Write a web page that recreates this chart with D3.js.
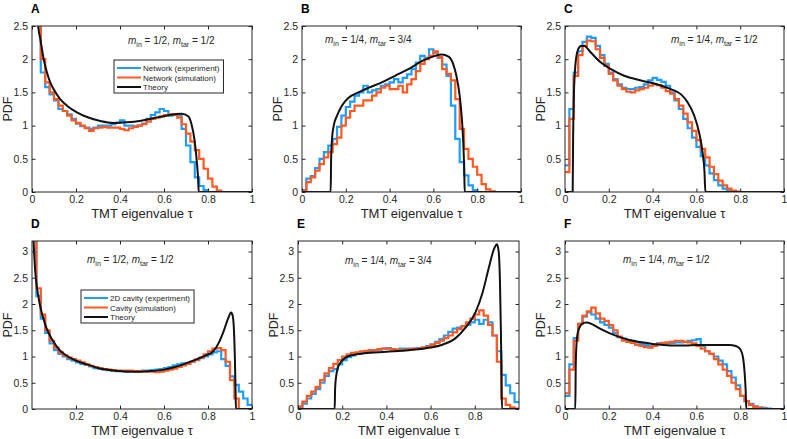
<!DOCTYPE html>
<html>
<head>
<meta charset="utf-8">
<script src="https://cdn.jsdelivr.net/npm/d3@7/dist/d3.min.js"></script>
<style>
body { margin:0; background:#fff; }
svg { display:block; font-family: Arial, "Liberation Sans", Helvetica, sans-serif; }
</style>
</head>
<body>
<svg id="fig" width="787" height="439"></svg>
<script>
// histogram bins are 0.02 wide, starting at tau = 0 (50 bins per series)
var binWidth = 0.02;

var xTicksAll = [0, 0.2, 0.4, 0.6, 0.8, 1];
var xTicksD = [0.2, 0.4, 0.6, 0.8, 1];
var xTicksE = [0, 0.2, 0.4, 0.6, 0.8];
var yTicksTop = [0, 0.5, 1, 1.5, 2, 2.5];
var yTicksBottom = [0, 0.5, 1, 1.5, 2, 2.5, 3];

var legendNetwork = ["Network (experiment)", "Network (simulation)", "Theory"];
var legendCavity = ["2D cavity (experiment)", "Cavity (simulation)", "Theory"];

// A : m_in = 1/2, m_tar = 1/2 (network)
var aExp = [null,2.6,1.8,1.58,1.47,1.38,1.25,1.22,1.17,1.1, 1.03,0.99,0.97,0.95,0.97,1.0,1.0,1.0,1.02,1.04,
  1.08,1.0,1.0,0.99,1.0,1.03,1.1,1.16,1.2,1.25, 1.22,1.15,1.17,1.15,0.95,0.7,0.45,0.22,0.09,0.03,
  0,0,0,0,0,0,0,0,0,0];
var aSim = [null,2.6,2.0,1.65,1.5,1.4,1.3,1.22,1.15,1.08, 1.04,1.0,0.96,0.92,0.96,0.97,0.98,0.97,0.97,0.97,
  0.95,0.93,0.96,0.98,1.0,1.02,1.06,1.1,1.12,1.14, 1.16,1.17,1.16,1.12,1.02,0.88,0.76,0.63,0.5,0.35,
  0.2,0.08,0.02,0,0,0,0,0,0,0];
var aTheory = [[0.026,2.6],[0.03,2.45],[0.038,2.3],[0.053,2.0],[0.068,1.8],[0.083,1.65],[0.098,1.55],[0.128,1.4],
  [0.159,1.3],[0.204,1.2],[0.25,1.13],[0.31,1.07],[0.37,1.04],[0.43,1.05],[0.49,1.07],[0.55,1.11],[0.61,1.15],
  [0.65,1.17],[0.68,1.18],[0.71,1.14],[0.725,1.02],[0.738,0.8],[0.748,0.5],[0.755,0.2],[0.758,0],[1,0]];

// B : m_in = 1/4, m_tar = 3/4 (network)
var bExp = [0.03,0.2,0.24,0.36,0.5,0.6,0.7,0.8,0.98,1.15, 1.28,1.36,1.45,1.5,1.6,1.5,1.53,1.55,1.6,1.62,
  1.65,1.7,1.65,1.72,1.77,1.85,1.95,2.05,2.02,2.15, 2.1,2.02,1.92,1.75,1.3,0.8,0.45,0.25,0.1,0.03,
  0,0,0,0,0,0,0,0,0,0];
var bSim = [0.02,0.15,0.22,0.32,0.42,0.52,0.6,0.72,0.82,1.0, 1.12,1.22,1.3,1.3,1.38,1.38,1.45,1.5,1.57,1.6,
  1.55,1.55,1.6,1.5,1.62,1.7,1.82,1.93,2.0,2.05, 2.12,2.03,1.85,1.78,1.68,1.4,0.95,0.65,0.5,0.38,
  0.26,0.12,0.04,0.01,0,0,0,0,0,0];
var bTheory = [[0,0],[0.131,0],[0.133,0.5],[0.137,0.8],[0.145,1.0],[0.16,1.15],[0.182,1.3],[0.213,1.42],[0.258,1.5],
  [0.304,1.57],[0.365,1.65],[0.425,1.75],[0.486,1.85],[0.547,1.97],[0.608,2.05],[0.638,2.07],[0.669,2.04],
  [0.69,1.93],[0.705,1.75],[0.72,1.45],[0.73,1.1],[0.737,0.7],[0.741,0.3],[0.743,0],[1,0]];

// C : m_in = 1/4, m_tar = 1/2 (network)
var cExp = [0.4,1.25,1.8,2.12,2.26,2.34,2.32,2.2,2.06,1.93, 1.8,1.7,1.62,1.57,1.55,1.55,1.57,1.58,1.62,1.68,
  1.72,1.69,1.66,1.6,1.5,1.38,1.25,1.1,0.96,0.82, 0.68,0.54,0.4,0.28,0.18,0.1,0.05,0.02,0.005,0,
  0,0,0,0,0,0,0,0,0,0];
var cSim = [0.3,1.1,1.75,2.06,2.2,2.28,2.27,2.15,2.02,1.9, 1.78,1.68,1.6,1.55,1.51,1.5,1.53,1.55,1.57,1.6,
  1.62,1.61,1.57,1.52,1.48,1.4,1.3,1.18,1.05,0.92, 0.78,0.65,0.52,0.38,0.27,0.17,0.1,0.05,0.02,0.005,
  0,0,0,0,0,0,0,0,0,0];
var cTheory = [[0,0],[0.035,0],[0.037,0.8],[0.04,1.4],[0.045,1.8],[0.05,2.0],[0.06,2.15],[0.073,2.2],[0.088,2.2],
  [0.118,2.1],[0.164,1.95],[0.21,1.85],[0.27,1.75],[0.347,1.68],[0.422,1.62],[0.483,1.55],[0.53,1.47],
  [0.56,1.35],[0.59,1.15],[0.612,0.9],[0.628,0.6],[0.637,0.3],[0.641,0],[1,0]];

// D : m_in = 1/2, m_tar = 1/2 (cavity)
var dExp = [3.3,2.15,1.72,1.45,1.25,1.12,1.05,1.0,0.95,0.92, 0.89,0.86,0.84,0.81,0.78,0.77,0.75,0.74,0.73,0.72,
  0.72,0.71,0.72,0.72,0.72,0.73,0.73,0.74,0.75,0.76, 0.78,0.8,0.83,0.85,0.87,0.88,0.9,0.93,0.97,1.0,
  1.04,1.08,1.1,0.95,0.82,0.62,0.46,0.33,0.2,0.08];
var dSim = [3.3,2.3,1.8,1.5,1.3,1.17,1.08,1.02,0.98,0.95, 0.92,0.89,0.85,0.82,0.8,0.78,0.76,0.75,0.74,0.73,
  0.73,0.73,0.73,0.72,0.72,0.72,0.71,0.71,0.7,0.71, 0.73,0.75,0.77,0.8,0.83,0.86,0.9,0.94,0.98,1.04,
  1.1,1.15,1.16,1.12,0.9,0.55,0.2,0,0,0];
var dTheory = [[0.006,3.3],[0.01,2.95],[0.015,2.6],[0.02,2.4],[0.035,2.0],[0.05,1.75],[0.065,1.55],[0.095,1.3],
  [0.126,1.12],[0.156,1.02],[0.2,0.92],[0.25,0.85],[0.3,0.78],[0.38,0.73],[0.46,0.71],[0.53,0.72],[0.6,0.75],
  [0.65,0.8],[0.7,0.87],[0.75,0.95],[0.79,1.02],[0.824,1.1],[0.85,1.27],[0.87,1.47],[0.892,1.73],[0.905,1.84],
  [0.912,1.78],[0.918,1.5],[0.922,1.0],[0.925,0.4],[0.927,0],[1,0]];

// E : m_in = 1/4, m_tar = 3/4 (cavity)
var eExp = [0.03,0.1,0.2,0.29,0.38,0.5,0.63,0.72,0.76,0.85, 0.93,0.99,1.02,1.05,1.07,1.09,1.1,1.12,1.13,1.15,
  1.16,1.14,1.13,1.15,1.15,1.15,1.15,1.16,1.17,1.2, 1.23,1.28,1.33,1.4,1.47,1.53,1.55,1.58,1.6,1.65,
  1.7,1.62,1.7,1.65,1.4,1.1,0.65,0.45,0.3,0.13];
var eSim = [0.05,0.14,0.25,0.33,0.42,0.55,0.68,0.78,0.86,0.93, 1.0,1.04,1.07,1.08,1.1,1.11,1.12,1.12,1.14,1.15,
  1.15,1.14,1.13,1.12,1.13,1.14,1.15,1.15,1.17,1.19, 1.22,1.26,1.3,1.35,1.4,1.46,1.52,1.58,1.65,1.72,
  1.8,1.88,1.78,1.6,1.4,0.9,0.2,0.08,0.03,0.01];
var eTheory = [[0,0],[0.166,0],[0.168,0.4],[0.172,0.6],[0.18,0.78],[0.195,0.9],[0.215,0.98],[0.25,1.03],[0.3,1.06],
  [0.4,1.09],[0.5,1.12],[0.6,1.17],[0.65,1.22],[0.713,1.35],[0.758,1.55],[0.804,1.85],[0.834,2.2],[0.864,2.7],
  [0.887,3.05],[0.9,3.14],[0.908,3.0],[0.914,2.4],[0.918,1.5],[0.921,0.6],[0.923,0],[1,0]];

// F : m_in = 1/4, m_tar = 1/2 (cavity)
var fExp = [0.25,0.85,1.35,1.62,1.76,1.84,1.8,1.72,1.65,1.6, 1.55,1.45,1.37,1.34,1.31,1.3,1.27,1.24,1.22,1.2,
  1.22,1.25,1.25,1.25,1.26,1.27,1.27,1.28,1.3,1.31, 1.33,1.2,1.1,1.05,1.0,0.92,0.85,0.72,0.6,0.45,
  0.25,0.15,0.1,0.05,0.03,0.02,0.01,0,0,0];
var fSim = [0.3,0.75,1.3,1.62,1.78,1.86,1.93,1.82,1.72,1.68, 1.6,1.5,1.38,1.3,1.28,1.26,1.22,1.2,1.18,1.17,
  1.2,1.24,1.26,1.27,1.28,1.3,1.3,1.28,1.27,1.25, 1.2,1.15,1.1,1.05,0.95,0.85,0.75,0.63,0.5,0.38,
  0.25,0.15,0.08,0.04,0.02,0.01,0,0,0,0];
var fTheory = [[0,0],[0.047,0],[0.049,0.8],[0.052,1.2],[0.058,1.45],[0.07,1.58],[0.085,1.64],[0.1,1.65],[0.12,1.62],
  [0.16,1.53],[0.2,1.45],[0.25,1.37],[0.3,1.31],[0.35,1.27],[0.4,1.24],[0.45,1.22],[0.5,1.21],[0.55,1.21],
  [0.6,1.22],[0.65,1.22],[0.7,1.22],[0.75,1.22],[0.78,1.2],[0.8,1.14],[0.812,1.0],[0.82,0.7],[0.825,0.35],
  [0.828,0],[1,0]];

var colExp = "#1e9dff", colSim = "#ff5a24", colTheory = "#111111", colAxis = "#262626";

var panels = [
  {id:"A", exp:aExp, sim:aSim, theory:aTheory, yMax:2.5, yTicks:yTicksTop, xTicks:xTicksAll,
   box:[32,26,252,192], mIn:"1/2", mTar:"1/2", noteAt:[128,44], legend:legendNetwork, legendAt:[114,60]},
  {id:"B", exp:bExp, sim:bSim, theory:bTheory, yMax:2.5, yTicks:yTicksTop, xTicks:xTicksAll,
   box:[302,26,521,192], mIn:"1/4", mTar:"3/4", noteAt:[325,43]},
  {id:"C", exp:cExp, sim:cSim, theory:cTheory, yMax:2.5, yTicks:yTicksTop, xTicks:xTicksAll,
   box:[565,26,784,192], mIn:"1/4", mTar:"1/2", noteAt:[671,43]},
  {id:"D", exp:dExp, sim:dSim, theory:dTheory, yMax:3.2, yTicks:yTicksBottom, xTicks:xTicksD,
   box:[32,241,252,409], mIn:"1/2", mTar:"1/2", noteAt:[87,263], legend:legendCavity, legendAt:[81,290]},
  {id:"E", exp:eExp, sim:eSim, theory:eTheory, yMax:3.2, yTicks:yTicksBottom, xTicks:xTicksE,
   box:[298,241,519,409], mIn:"1/4", mTar:"3/4", noteAt:[345,264]},
  {id:"F", exp:fExp, sim:fSim, theory:fTheory, yMax:3.2, yTicks:yTicksBottom, xTicks:xTicksAll,
   box:[565,241,784,409], mIn:"1/4", mTar:"1/2", noteAt:[623,263]}
];

var svg = d3.select("#fig");

function histPoints(values) {
  var pts = values.map(function (v, i) { return [i * binWidth, v]; });
  pts.push([1, values[values.length - 1]]);
  return pts;
}

function drawPanel(p) {
  var x0 = p.box[0], y0 = p.box[1], x1 = p.box[2], y1 = p.box[3];
  var x = d3.scaleLinear().domain([0, 1]).range([x0, x1]);
  var y = d3.scaleLinear().domain([0, p.yMax]).range([y1, y0]);
  var g = svg.append("g").attr("class", "panel-" + p.id);

  g.append("clipPath").attr("id", "clip" + p.id)
    .append("rect").attr("x", x0).attr("y", y0).attr("width", x1 - x0).attr("height", y1 - y0);

  var plot = g.append("g").attr("clip-path", "url(#clip" + p.id + ")");

  var step = d3.line()
    .defined(function (d) { return d[1] !== null; })
    .x(function (d) { return x(d[0]); })
    .y(function (d) { return y(d[1]); })
    .curve(d3.curveStepAfter);

  var smooth = d3.line()
    .x(function (d) { return x(d[0]); })
    .y(function (d) { return y(d[1]); })
    .curve(d3.curveMonotoneX);

  plot.append("path").attr("d", step(histPoints(p.exp)))
    .attr("fill", "none").attr("stroke", colExp).attr("stroke-width", 2.2);
  plot.append("path").attr("d", step(histPoints(p.sim)))
    .attr("fill", "none").attr("stroke", colSim).attr("stroke-width", 2.2);
  plot.append("path").attr("d", smooth(p.theory))
    .attr("fill", "none").attr("stroke", colTheory).attr("stroke-width", 2);

  // axes, matlab style ticks pointing inward on all four sides
  var xb = g.append("g").attr("transform", "translate(0," + y1 + ")")
    .call(d3.axisBottom(x).tickValues(p.xTicks).tickSize(-3.5).tickPadding(4).tickFormat(d3.format("")));
  var xt = g.append("g").attr("transform", "translate(0," + y0 + ")")
    .call(d3.axisTop(x).tickValues(p.xTicks).tickSize(-3.5).tickFormat(""));
  var yl = g.append("g").attr("transform", "translate(" + x0 + ",0)")
    .call(d3.axisLeft(y).tickValues(p.yTicks).tickSize(-3.5).tickPadding(4).tickFormat(d3.format("")));
  var yr = g.append("g").attr("transform", "translate(" + x1 + ",0)")
    .call(d3.axisRight(y).tickValues(p.yTicks).tickSize(-3.5).tickFormat(""));
  [xb, xt, yl, yr].forEach(function (a) {
    a.select(".domain").remove();
    a.selectAll("line").attr("stroke", colAxis);
    a.selectAll("text").attr("fill", colAxis).style("font-size", "10.5px");
  });

  g.append("rect").attr("x", x0).attr("y", y0).attr("width", x1 - x0).attr("height", y1 - y0)
    .attr("fill", "none").attr("stroke", colAxis).attr("stroke-width", 1);

  g.append("text").attr("x", (x0 + x1) / 2).attr("y", y1 + 26).attr("text-anchor", "middle")
    .style("font-size", "13px").attr("fill", colAxis).text("TMT eigenvalue \u03c4");

  g.append("text").attr("transform", "translate(" + (x0 - 20) + "," + ((y0 + y1) / 2) + ") rotate(-90)")
    .attr("text-anchor", "middle").style("font-size", "12.5px").attr("fill", colAxis).text("PDF");

  g.append("text").attr("x", x0 - 1).attr("y", y0 - 13).style("font-size", "12px")
    .style("font-weight", "bold").attr("fill", "#000").text(p.id);

  // m_in / m_tar note
  var note = g.append("text").attr("x", p.noteAt[0]).attr("y", p.noteAt[1])
    .style("font-size", "10px").attr("fill", colAxis);
  note.append("tspan").style("font-style", "italic").text("m");
  note.append("tspan").attr("dy", 3).style("font-size", "7px").text("in");
  note.append("tspan").attr("dy", -3).text(" = " + p.mIn + ", ");
  note.append("tspan").style("font-style", "italic").text("m");
  note.append("tspan").attr("dy", 3).style("font-size", "7px").text("tar");
  note.append("tspan").attr("dy", -3).text(" = " + p.mTar);

  if (p.legend) {
    var lg = g.append("g").attr("transform", "translate(" + p.legendAt[0] + "," + p.legendAt[1] + ")");
    var box = lg.append("rect").attr("fill", "#fff").attr("stroke", colAxis).attr("stroke-width", 1);
    var cols = [colExp, colSim, colTheory];
    var maxW = 0;
    p.legend.forEach(function (name, i) {
      var ly = 8 + i * 9.5;
      lg.append("line").attr("x1", 3).attr("x2", 27).attr("y1", ly).attr("y2", ly)
        .attr("stroke", cols[i]).attr("stroke-width", 2);
      var t = lg.append("text").attr("x", 29).attr("y", ly + 3).style("font-size", "8px")
        .attr("fill", colAxis).text(name);
      maxW = Math.max(maxW, t.node().getComputedTextLength());
    });
    box.attr("x", 0).attr("y", 0).attr("width", 29 + maxW + 4).attr("height", 33);
  }
}

panels.forEach(drawPanel);
</script>
</body>
</html>
